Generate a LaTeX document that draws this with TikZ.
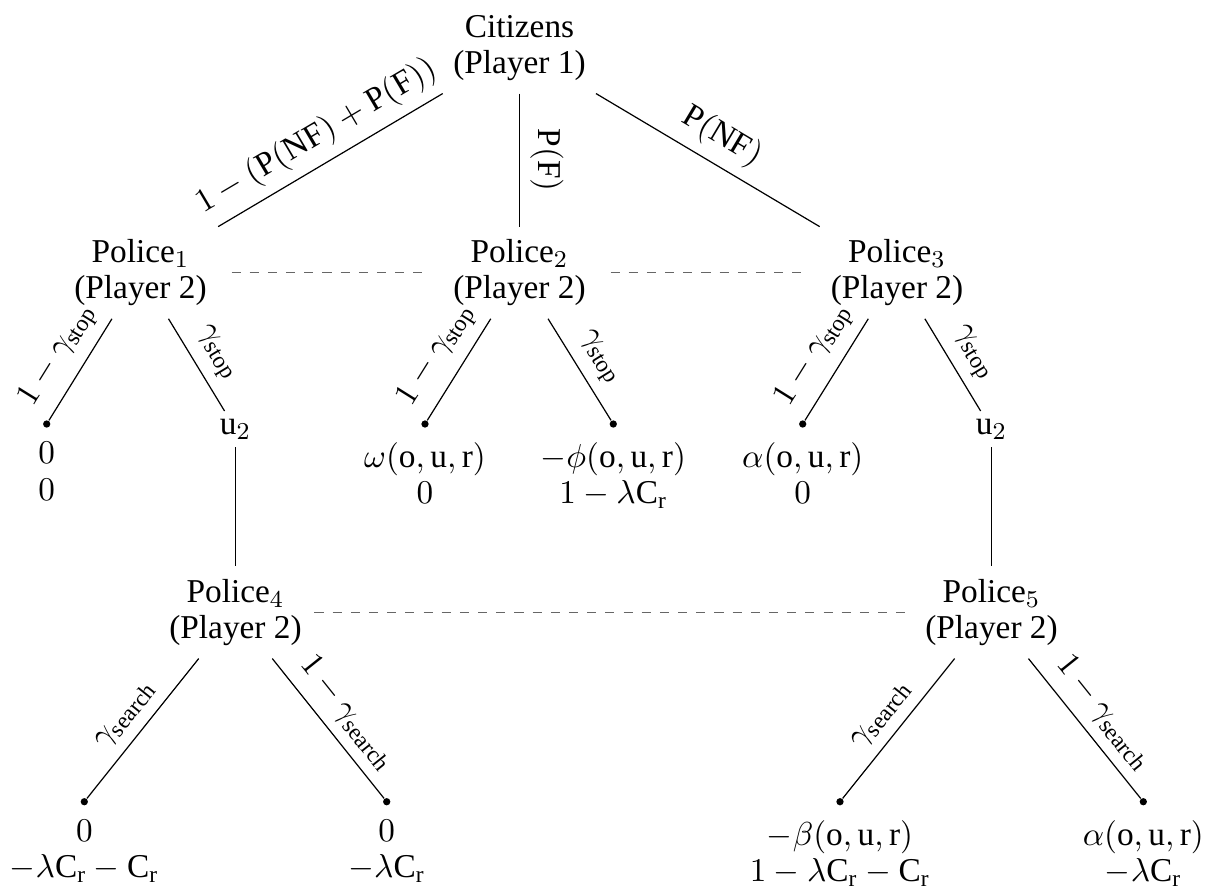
\documentclass[tikz,border=0pt]{standalone}
\usepackage{fontspec}
\setmainfont{Liberation Serif}
\begin{document}
\begin{tikzpicture}[x=0.33pt,y=-0.33pt,
  every node/.style={font=\fontsize{11}{12}\selectfont},
  player/.style={align=center, inner sep=4pt},
  leaf/.style={circle, fill, inner sep=0pt, minimum size=2.4pt},
  dec/.style={inner xsep=1pt, inner ysep=2.4pt},
  payoff/.style={align=center, inner sep=1.5pt},
  edge/.style={line width=0.4pt},
  info/.style={dashed, black!60, line width=0.4pt},
  lab/.style={sloped, above}
]
\useasboundingbox (0,0) rectangle (1216,888);

% players
\node[player] (root) at (519.5,48) {Citizens\\(Player 1)};
\node[player] (p1) at (140.5,272.7) {$\mathrm{Police}_1$\\(Player 2)};
\node[player] (p2) at (519.5,272.7) {$\mathrm{Police}_2$\\(Player 2)};
\node[player] (p3) at (897,272.7) {$\mathrm{Police}_3$\\(Player 2)};
\node[player] (p4) at (235.5,612.5) {$\mathrm{Police}_4$\\(Player 2)};
\node[player] (p5) at (991.5,612.5) {$\mathrm{Police}_5$\\(Player 2)};

% decision points
\node[dec] (u2a) at (235.5,429) {$\mathrm{u}_2$};
\node[dec] (u2b) at (991.5,429) {$\mathrm{u}_2$};

% leaves
\node[leaf, label={[payoff,label distance=3pt]below:{$0$\\$0$}}] (l1) at (46.7,424) {};
\node[leaf, label={[payoff,label distance=3pt]below:{$\omega(\mathrm{o},\mathrm{u},\mathrm{r})$\\$0$}}] (l2) at (425,424) {};
\node[leaf, label={[payoff,label distance=3pt]below:{$-\phi(\mathrm{o},\mathrm{u},\mathrm{r})$\\$1-\lambda\mathrm{C}_\mathrm{r}$}}] (l3) at (613.3,424) {};
\node[leaf, label={[payoff,label distance=3pt]below:{$\alpha(\mathrm{o},\mathrm{u},\mathrm{r})$\\$0$}}] (l4) at (802.7,424) {};
\node[leaf, label={[payoff,label distance=3pt]below:{$0$\\$-\lambda\mathrm{C}_\mathrm{r}-\mathrm{C}_\mathrm{r}$}}] (l5) at (84.3,801.7) {};
\node[leaf, label={[payoff,label distance=3pt]below:{$0$\\$-\lambda\mathrm{C}_\mathrm{r}$}}] (l6) at (386.7,801.7) {};
\node[leaf, label={[payoff,label distance=3pt]below:{$-\beta(\mathrm{o},\mathrm{u},\mathrm{r})$\\$1-\lambda\mathrm{C}_\mathrm{r}-\mathrm{C}_\mathrm{r}$}}] (l7) at (840,801.7) {};
\node[leaf, label={[payoff,label distance=3pt]below:{$\alpha(\mathrm{o},\mathrm{u},\mathrm{r})$\\$-\lambda\mathrm{C}_\mathrm{r}$}}] (l8) at (1143.3,801.7) {};

% edges from root
\draw[edge] (root) -- node[lab] {$1-(\mathrm{P}(\mathrm{NF})+\mathrm{P}(\mathrm{F}))$} (p1);
\draw[edge] (root) -- node[lab] {$\mathrm{P}(\mathrm{F})$} (p2);
\draw[edge] (root) -- node[lab] {$\mathrm{P}(\mathrm{NF})$} (p3);

% second level
\draw[edge] (p1) -- node[lab] {$1-\gamma_\mathrm{stop}$} (l1);
\draw[edge] (p1) -- node[lab] {$\gamma_\mathrm{stop}$} (u2a);
\draw[edge] (p2) -- node[lab] {$1-\gamma_\mathrm{stop}$} (l2);
\draw[edge] (p2) -- node[lab] {$\gamma_\mathrm{stop}$} (l3);
\draw[edge] (p3) -- node[lab] {$1-\gamma_\mathrm{stop}$} (l4);
\draw[edge] (p3) -- node[lab] {$\gamma_\mathrm{stop}$} (u2b);

% to search nodes
\draw[edge] (u2a) -- (p4);
\draw[edge] (u2b) -- (p5);

% search
\draw[edge] (p4) -- node[lab] {$\gamma_\mathrm{search}$} (l5);
\draw[edge] (p4) -- node[lab] {$1-\gamma_\mathrm{search}$} (l6);
\draw[edge] (p5) -- node[lab] {$\gamma_\mathrm{search}$} (l7);
\draw[edge] (p5) -- node[lab] {$1-\gamma_\mathrm{search}$} (l8);

% information sets
\draw[info, shorten <=4pt, shorten >=4pt] (p1) -- (p2);
\draw[info, shorten <=4pt, shorten >=4pt] (p2) -- (p3);
\draw[info] (p4) -- (p5);
\end{tikzpicture}
\end{document}
